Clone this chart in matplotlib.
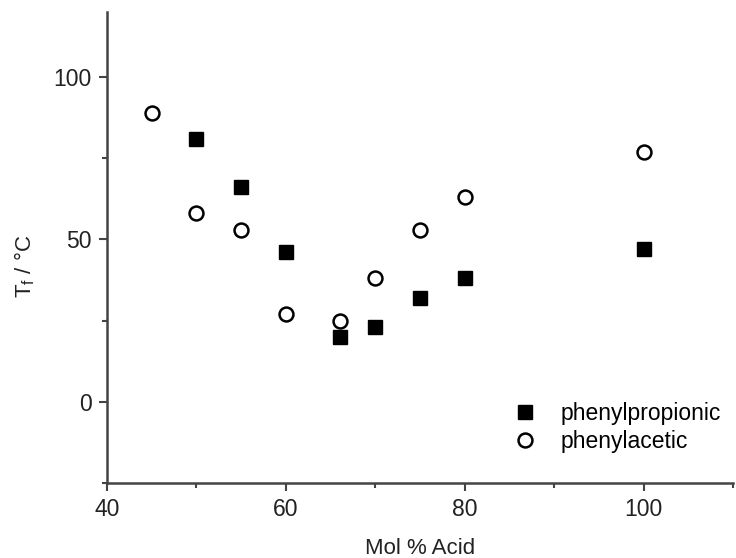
import matplotlib
matplotlib.use("Agg")
import matplotlib.pyplot as plt
from matplotlib.ticker import MultipleLocator

plt.rcParams['font.family'] = ['Liberation Sans', 'DejaVu Sans']

# data
prop_x = [50, 55, 60, 66, 70, 75, 80, 100]
prop_y = [81, 66, 46, 20, 23, 32, 38, 47]
acet_x = [45, 50, 55, 60, 66, 70, 75, 80, 100]
acet_y = [89, 58, 53, 27, 25, 38, 53, 63, 77]

fig = plt.figure(figsize=(7.36, 5.58), dpi=100)
ax = fig.add_axes([0.1454, 0.1344, 0.8505, 0.8441])

ax.plot(prop_x, prop_y, 's', color='black', markersize=9.5, label='phenylpropionic')
ax.plot(acet_x, acet_y, 'o', markerfacecolor='white', markeredgecolor='black',
        markeredgewidth=1.8, markersize=10, label='phenylacetic')

ax.set_xlim(40, 110)
ax.set_ylim(-25, 120)
ax.xaxis.set_major_locator(MultipleLocator(20))
ax.xaxis.set_minor_locator(MultipleLocator(10))
ax.yaxis.set_major_locator(MultipleLocator(50))
ax.yaxis.set_minor_locator(MultipleLocator(25))

for s in ['top', 'right']:
    ax.spines[s].set_visible(False)
for s in ['left', 'bottom']:
    ax.spines[s].set_linewidth(1.8)
    ax.spines[s].set_color('#444444')

ax.tick_params(which='major', direction='out', length=6, width=1.5, color='#444444',
               labelsize=16.5, labelcolor='#222222', pad=5)
ax.tick_params(which='minor', direction='out', length=3.5, width=1.5, color='#444444')

ax.set_xlabel('Mol % Acid', fontsize=16, color='#222222', labelpad=12)
ax.set_ylabel('T$_\\mathregular{f}$ / °C', fontsize=16, color='#222222')
ax.yaxis.set_label_coords(-0.112, 0.46)

ax.legend(loc='upper left', bbox_to_anchor=(0.631, 0.1715), frameon=False, fontsize=16.5,
          handletextpad=0.55, labelspacing=0.2, borderpad=0, borderaxespad=0)

fig.savefig('out.png', dpi=100)
